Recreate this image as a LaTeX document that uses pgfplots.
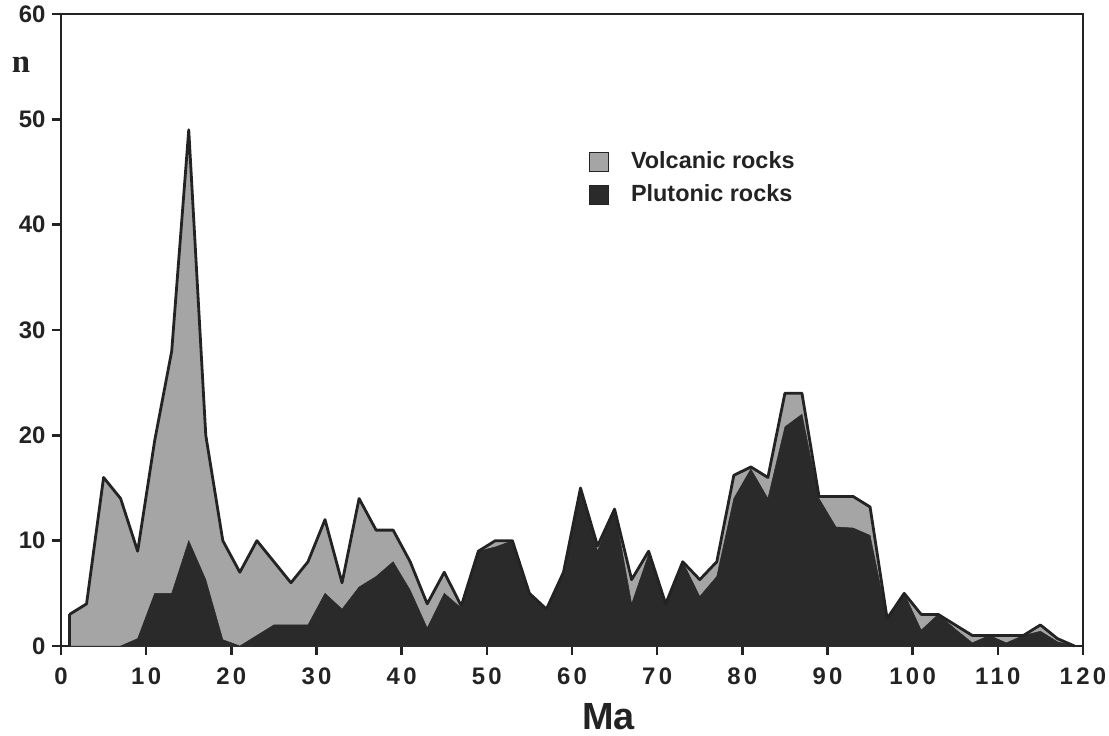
\documentclass[border=0pt]{standalone}
\usepackage{fontspec}
\setmainfont{Liberation Sans}
\newfontfamily\serifbold{Liberation Serif}
\usepackage{pgfplots}
\usepackage{pgfplotstable}
\pgfplotsset{compat=1.18}
\definecolor{volc}{RGB}{165,165,165}
\definecolor{plut}{RGB}{42,42,42}
\definecolor{ink}{RGB}{35,35,35}
\pgfplotstableread{
x tot plu
1 3 0
3 4 0
5 16 0
7 14 0
9 9 0.7
11 19.5 5
13 28 5
15 49 10
17 20 6.3
19 10 0.6
21 7 0
23 10 1
25 8 2
27 6 2
29 8 2
31 12 5
33 6 3.5
35 14 5.6
37 11 6.6
39 11 8
41 8 5.3
43 4 1.7
45 7 5
47 3.8 3.6
49 9 9
51 10 9.4
53 10 10
55 5 5
57 3.5 3.5
59 7 7
61 15 15
63 9.5 9
65 13 13
67 6.3 4
69 9 8.7
71 4 4
73 8 8
75 6.3 4.7
77 8 6.6
79 16.2 14
81 17 16.8
83 16 14
85 24 20.8
87 24 22
89 14.2 14
91 14.2 11.3
93 14.2 11.2
95 13.2 10.5
97 2.6 2.6
99 5 5
101 3 1.5
103 3 3
105 2 1.6
107 1 0.3
109 1 1
111 1 0.3
113 1 1
115 2 1.4
117 0.7 0.4
119 0 0
}\datatable
\pgfplotstableread{
x y
1 0
1 3
}\startedge
\begin{document}
\begin{tikzpicture}
\useasboundingbox (-61bp,-90bp) rectangle (1048bp,646bp);
\begin{axis}[
  scale only axis,
  width=1022bp, height=632bp,
  xmin=0, xmax=120, ymin=0, ymax=60,
  xtick={0,10,...,120}, ytick={0,10,...,60},
  xtick pos=lower, ytick pos=left,
  tick align=outside,
  major tick length=9bp,
  axis line style={line width=2.4bp, color=ink},
  every tick/.style={line width=2.4bp, color=ink},
  /pgf/number format/assume math mode=true,
  xticklabel style={font=\fontsize{24}{24}\selectfont\bfseries\addfontfeature{LetterSpace=14}, color=ink, yshift=-9bp},
  yticklabel style={font=\fontsize{24}{24}\selectfont\bfseries, color=ink, xshift=-3bp},
  clip=false,
  legend style={at={(axis cs:62.0,47.1)}, anchor=north west, draw=none, fill=none,
    font=\fontsize{23.5}{23.5}\selectfont\bfseries, text=ink,
    row sep=8bp, column sep=20bp, inner sep=0pt,
    nodes={inner sep=2bp, text height=16bp, text depth=5bp}},
  legend cell align=left,
  legend image code/.code={\draw[#1, draw=ink, line width=0.8bp] (0bp,-9bp) rectangle (19bp,10bp);},
]
\addplot[fill=volc, draw=none] table[x=x, y=tot] {\datatable} \closedcycle;
\addlegendentry{Volcanic rocks}
\addplot[fill=plut, draw=plut, line width=0.5bp] table[x=x, y=plu] {\datatable} \closedcycle;
\addlegendentry{Plutonic rocks}
\addplot[draw=ink, line width=2.8bp, line join=round, forget plot] table[x=x, y=tot] {\datatable};
\addplot[draw=ink, line width=2.8bp, forget plot] table[x=x, y=y] {\startedge};
\node[anchor=base, font=\fontsize{38}{38}\selectfont\bfseries, text=ink] at (axis cs:64.3,0) [yshift=-83bp] {Ma};
\node[anchor=base, font=\fontsize{33}{33}\selectfont\serifbold\bfseries, text=ink] at (axis cs:0,54.4) [xshift=-40bp] {n};
\end{axis}
\end{tikzpicture}
\end{document}
